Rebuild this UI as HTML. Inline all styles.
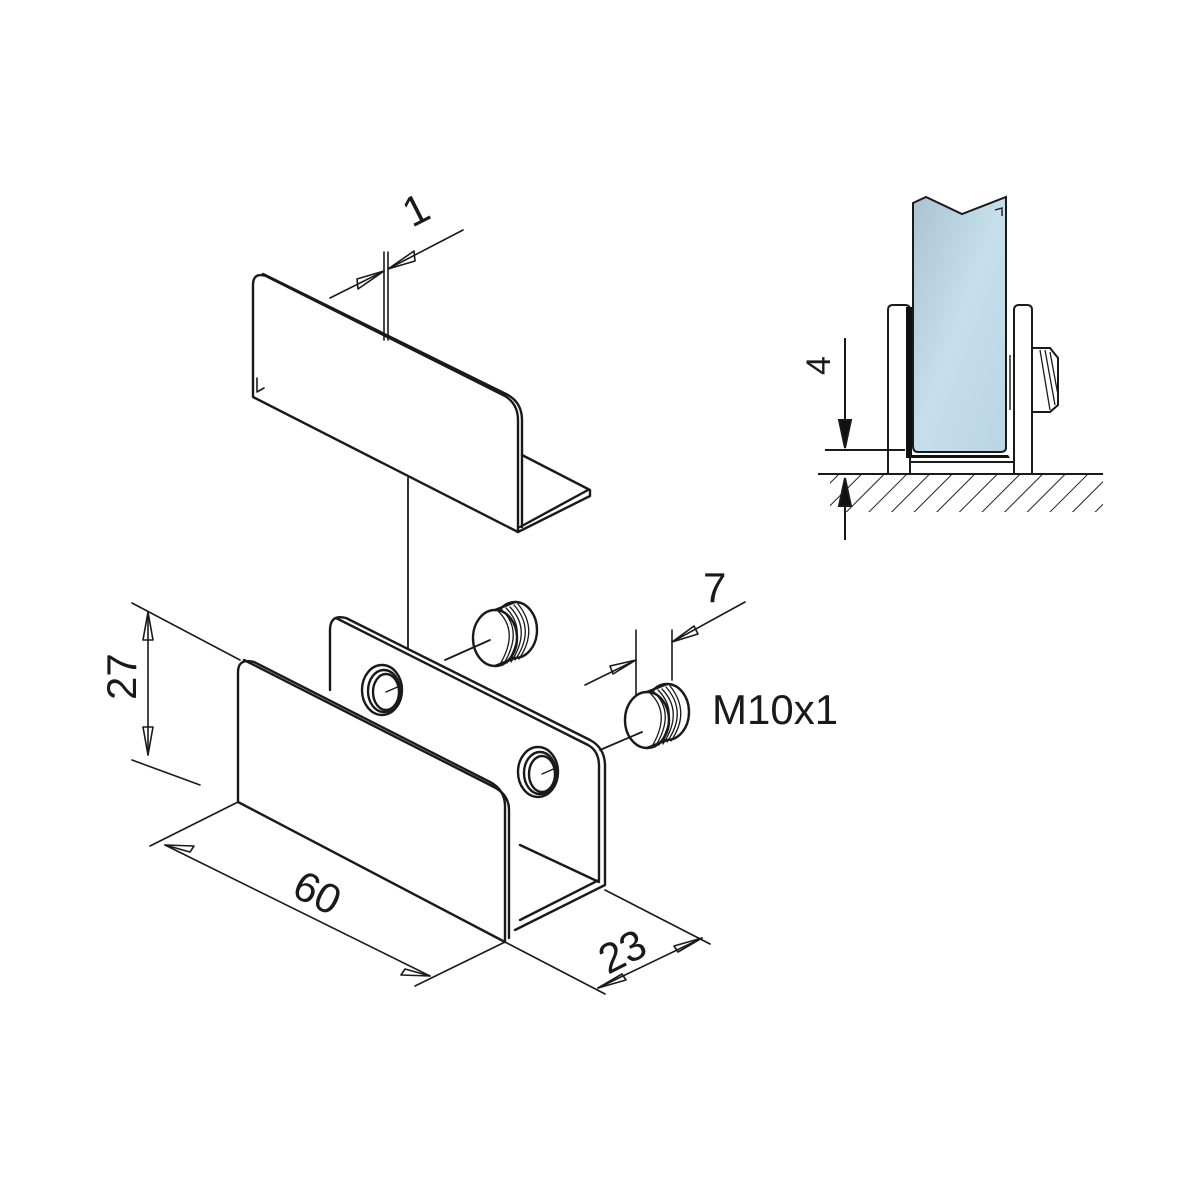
<!DOCTYPE html>
<html><head><meta charset="utf-8"><style>html,body{margin:0;padding:0;background:#fff}svg{display:block}</style></head><body>
<svg width="1200" height="1200" viewBox="0 0 1200 1200" xmlns="http://www.w3.org/2000/svg">
<defs>
<linearGradient id="g" x1="0" y1="0" x2="1" y2="1"><stop offset="0" stop-color="#a9c3d2"/><stop offset="0.5" stop-color="#c5dfec"/><stop offset="1" stop-color="#b9d4e4"/></linearGradient>
<pattern id="h" width="16" height="16" patternUnits="userSpaceOnUse" patternTransform="rotate(45)"><line x1="0" y1="0" x2="0" y2="16" stroke="#222" stroke-width="2"/></pattern>
</defs>
<g fill="none" stroke="#1a1a1a" stroke-width="2.4" stroke-linejoin="round" stroke-linecap="round">
<!-- top angle -->
<path d="M253,397 L253,285 Q253,272 266,276 L505,396 Q518,404 518,420 L518,532 Z" fill="#fff"/>
<path d="M263,274 L508,395 Q522,403 522,420 L522,527"/>
<path d="M522,455 L590,490 L590,496 L518,532 M520,527 L588,490"/>
<path d="M257,378 L257,392 L264,388" stroke-width="1.6"/>
<line x1="408" y1="478" x2="408" y2="730" stroke-width="1.8"/>
<!-- dim 1 -->
<g stroke-width="1.6">
<line x1="384" y1="252" x2="384" y2="340"/><line x1="388" y1="252" x2="388" y2="340"/>
<line x1="330" y1="298" x2="384" y2="271"/><line x1="388" y1="269" x2="463" y2="230"/>
<path d="M384,271 L357,279 L358,289 Z M388,269 L415,261 L414,251 Z"/>
</g>
<!-- U channel back plate -->
<path d="M330,690 L330,630 Q330,614 346,618 L590,740 Q605,748 605,766 L605,885 L515,930" fill="#fff"/>
<path d="M336,618 L588,745 Q599,751 599,766 L599,880 L520,920"/>
<path d="M520,845 L599,882"/>
<ellipse cx="382" cy="690" rx="20" ry="25" fill="#fff"/><ellipse cx="384" cy="691" rx="16" ry="21"/><ellipse cx="386" cy="692" rx="13" ry="18"/>
<line x1="386" y1="692" x2="402" y2="685" stroke-width="1.5"/>
<ellipse cx="538" cy="772" rx="20" ry="25" fill="#fff"/><ellipse cx="540" cy="773" rx="16" ry="21"/><ellipse cx="542" cy="774" rx="13" ry="18"/>
<line x1="542" y1="774" x2="558" y2="767" stroke-width="1.5"/>
<!-- front plate -->
<path d="M238,802 L238,672 Q238,658 254,662 L490,782 Q505,790 505,806 L505,942 Z" fill="#fff"/>
<path d="M244,660 L492,786 Q509,794 509,810 L509,938"/>
<!-- nuts -->
<g fill="#fff">
<ellipse cx="515" cy="630" rx="22" ry="28"/>
<ellipse cx="495" cy="638" rx="22" ry="28"/>
</g>
<path d="M495,610 L515,602 M495,666 L515,658" />
<g stroke-width="1.3"><path d="M498,611 Q520,632 499,666 M502,610 Q524,631 503,665 M506,608 Q528,630 507,663 M510,607 Q532,630 511,662 M514,605 Q536,630 515,660 M518,604 Q539,630 519,659"/></g>
<line x1="445" y1="660" x2="490" y2="640" stroke-width="1.8"/>
<g fill="#fff">
<ellipse cx="667" cy="712" rx="22" ry="28"/>
<ellipse cx="647" cy="720" rx="22" ry="28"/>
</g>
<path d="M647,692 L667,684 M647,748 L667,740"/>
<g stroke-width="1.3"><path d="M650,693 Q672,714 651,748 M654,692 Q676,713 655,747 M658,690 Q680,712 659,745 M662,689 Q684,712 663,744 M666,687 Q688,712 667,742 M670,686 Q691,712 671,741"/></g>
<line x1="600" y1="750" x2="642" y2="732" stroke-width="1.8"/>
<!-- dims -->
<g stroke-width="1.6">
<line x1="132" y1="603" x2="240" y2="660"/><line x1="132" y1="760" x2="200" y2="785"/>
<line x1="148" y1="612" x2="148" y2="755"/>
<path d="M148,612 L143,640 L153,640 Z M148,755 L143,727 L153,727 Z"/>
<line x1="238" y1="802" x2="150" y2="846"/><line x1="505" y1="942" x2="415" y2="986"/>
<line x1="165" y1="845" x2="430" y2="976"/>
<path d="M165,845 L190,852 L194,846 Z M430,976 L405,969 L401,975 Z"/>
<line x1="505" y1="942" x2="605" y2="994"/><line x1="605" y1="890" x2="710" y2="944"/>
<line x1="598" y1="988" x2="702" y2="938"/>
<path d="M598,988 L622,974 L626,980 Z M702,938 L678,952 L674,946 Z"/>
<line x1="636" y1="630" x2="636" y2="695"/><line x1="672" y1="630" x2="672" y2="680"/>
<line x1="585" y1="685" x2="636" y2="660"/><line x1="672" y1="642" x2="745" y2="602"/>
<path d="M636,660 L610,666 L613,674 Z M672,642 L698,634 L694,626 Z"/>
</g>
</g>
<g font-family="Liberation Sans, sans-serif" fill="#1a1a1a" font-size="42">
<text x="0" y="0" transform="translate(136,700) rotate(-90)">27</text>
<text x="0" y="0" transform="translate(290,895) rotate(27)">60</text>
<text x="0" y="0" transform="translate(608,975) rotate(-27)">23</text>
<text x="0" y="0" transform="translate(412,228) rotate(-27)">1</text>
<text x="703" y="602">7</text>
<text x="712" y="724">M10x1</text>
<text x="0" y="0" transform="translate(830,375) rotate(-90)" font-size="34">4</text>
</g>
<!-- right detail -->
<g stroke="#1a1a1a" stroke-width="2" fill="none">
<rect x="818" y="474" width="285" height="38" fill="url(#h)" stroke="none"/>
<rect x="800" y="474" width="30" height="40" fill="#fff" stroke="none"/>
<line x1="818" y1="474" x2="1103" y2="474"/>
<path d="M888,474 L888,310 Q888,305 893,305 L905,305 Q910,305 910,310 L910,474 Z" fill="#fff"/>
<path d="M1014,474 L1014,310 Q1014,305 1019,305 L1027,305 Q1032,305 1032,310 L1032,474 Z" fill="#fff"/>
<line x1="910" y1="462" x2="1014" y2="462"/>
<path d="M906,307 L912,307 L912,455 L1008,455 L1010,458 L906,458 Z" fill="#111" stroke="none"/>
<path d="M913,203 L926,197 L962,214 L1006,197 L1006,448 Q1006,452 1000,452 L918,452 Q913,452 913,446 Z" fill="url(#g)"/>
<path d="M995,210 L1002,208 L1002,216" stroke-width="1.4"/>
<line x1="1010" y1="355" x2="1010" y2="410" stroke-width="1.4"/>
<path d="M1032,348 L1050,348 L1058,358 L1058,405 L1050,412 L1032,412 Z" fill="#fff"/>
<path d="M1040,350 L1050,410 M1045,350 L1055,405 M1050,352 L1058,395" stroke-width="1.3"/>
<line x1="845" y1="338" x2="845" y2="448"/>
<path d="M845,448 L839,420 L851,420 Z" fill="#111"/>
<line x1="825" y1="450" x2="905" y2="450"/>
<line x1="845" y1="540" x2="845" y2="478"/>
<path d="M845,478 L839,506 L851,506 Z" fill="#111"/>
</g>
</svg>
</body></html>
